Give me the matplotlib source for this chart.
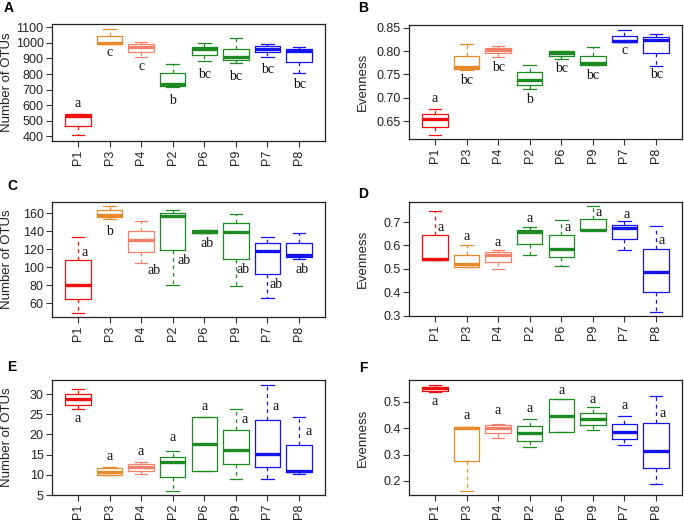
import matplotlib
matplotlib.use("Agg")
import matplotlib.pyplot as plt

plt.rcParams['font.family'] = ['Liberation Sans', 'DejaVu Sans']

groups = ["P1", "P3", "P4", "P2", "P6", "P9", "P7", "P8"]
colors = ["#F01010", "#E8892A", "#F4806A", "#1E8B22", "#1E8B22", "#1E8B22", "#1414EE", "#1414EE"]

# Panel A: Number of OTUs
A_q1 = [466, 993, 944, 725, 922, 890, 940, 875]
A_med = [533, 997, 976, 734, 961, 907, 959, 950]
A_q3 = [541, 1044, 993, 805, 976, 963, 980, 959]
A_lo = [408, 993, 907, 715, 884, 873, 907, 805]
A_hi = [541, 1087, 1008, 865, 997, 1030, 991, 972]
A_let = ["a", "c", "c", "b", "bc", "bc", "bc", "bc"]
A_let_y = [608, 940, 848, 633, 794, 787, 826, 730]

# Panel B: Evenness
B_q1 = [0.637, 0.762, 0.795, 0.728, 0.790, 0.770, 0.819, 0.795]
B_med = [0.655, 0.765, 0.802, 0.738, 0.795, 0.774, 0.822, 0.824]
B_q3 = [0.665, 0.790, 0.807, 0.754, 0.799, 0.790, 0.833, 0.829]
B_lo = [0.621, 0.760, 0.787, 0.718, 0.782, 0.770, 0.819, 0.768]
B_hi = [0.676, 0.815, 0.810, 0.770, 0.800, 0.808, 0.845, 0.837]
B_let = ["a", "bc", "bc", "b", "bc", "bc", "c", "bc"]
B_let_y = [0.698, 0.737, 0.765, 0.696, 0.762, 0.748, 0.802, 0.749]

# Panel C: Number of OTUs
C_q1 = [65.2, 155.2, 117.2, 119.1, 137.7, 109.0, 92.0, 110.9]
C_med = [80.8, 157.4, 130.2, 156.3, 139.5, 139.5, 118.4, 113.5]
C_q3 = [107.6, 163.0, 140.3, 160.0, 141.0, 149.0, 126.5, 126.5]
C_lo = [49.2, 153.3, 104.2, 80.8, 137.7, 79.0, 66.3, 108.7]
C_hi = [134.0, 167.4, 150.7, 163.0, 141.0, 158.9, 134.0, 138.4]
C_let = ["a", "b", "ab", "ab", "ab", "ab", "ab", "ab"]
C_let_y = [116.1, 139.5, 96.8, 107.2, 126.5, 97.9, 81.2, 97.9]
C_let_dx = [0.2, 0.0, 0.4, 0.35, 0.08, 0.23, 0.28, 0.1]

# Panel D: Evenness
D_q1 = [0.539, 0.510, 0.531, 0.607, 0.550, 0.667, 0.627, 0.400]
D_med = [0.541, 0.520, 0.560, 0.656, 0.584, 0.667, 0.674, 0.486]
D_q3 = [0.646, 0.560, 0.571, 0.667, 0.646, 0.714, 0.689, 0.584]
D_lo = [0.539, 0.507, 0.499, 0.560, 0.514, 0.667, 0.581, 0.314]
D_hi = [0.746, 0.603, 0.579, 0.679, 0.710, 0.767, 0.703, 0.684]
D_let = ["a"] * 8
D_let_y = [0.677, 0.639, 0.614, 0.717, 0.677, 0.741, 0.731, 0.620]
D_let_dx = [0.18, 0.0, 0.0, 0.0, 0.2, 0.19, 0.06, 0.19]

# Panel E: Number of OTUs
E_q1 = [27.4, 10.0, 11.0, 9.5, 11.0, 12.6, 12.0, 10.6]
E_med = [28.76, 10.6, 12.0, 13.1, 17.6, 16.1, 15.1, 11.0]
E_q3 = [29.9, 11.6, 12.6, 14.5, 24.2, 21.0, 23.6, 17.5]
E_lo = [26.2, 10.0, 10.1, 6.0, 11.0, 9.0, 9.0, 10.1]
E_hi = [31.2, 12.0, 13.1, 16.0, 24.2, 26.2, 32.2, 24.2]
E_let = ["a"] * 8
E_let_y = [24.0, 14.65, 15.7, 19.2, 26.9, 23.8, 26.9, 20.8]
E_let_dx = [0.0, 0.0, 0.0, 0.0, 0.0, 0.27, 0.27, 0.3]

# Panel F: Evenness
F_q1 = [0.5405, 0.2757, 0.3803, 0.3526, 0.3841, 0.4118, 0.3589, 0.2504]
F_med = [0.5506, 0.3992, 0.4018, 0.3803, 0.4472, 0.4346, 0.3841, 0.3148]
F_q3 = [0.5569, 0.4055, 0.4118, 0.4080, 0.5102, 0.4560, 0.4156, 0.4207]
F_lo = [0.5354, 0.1634, 0.3614, 0.3274, 0.3841, 0.3930, 0.3362, 0.1874]
F_hi = [0.5632, 0.4055, 0.4144, 0.4346, 0.5102, 0.4787, 0.4472, 0.5228]
F_let = ["a"] * 8
F_let_y = [0.500, 0.446, 0.465, 0.475, 0.5405, 0.510, 0.484, 0.456]
F_let_dx = [0.0, 0.0, 0.0, 0.0, 0.0, 0.0, 0.0, 0.2]

panels = [
    ("A", "Number of OTUs", A_q1, A_med, A_q3, A_lo, A_hi, A_let, A_let_y, [0.0] * 8,
     (370, 1121), [400, 500, 600, 700, 800, 900, 1000, 1100], "{:.0f}"),
    ("B", "Evenness", B_q1, B_med, B_q3, B_lo, B_hi, B_let, B_let_y, [0.0] * 8,
     (0.6116, 0.8557), [0.65, 0.70, 0.75, 0.80, 0.85], "{:.2f}"),
    ("C", "Number of OTUs", C_q1, C_med, C_q3, C_lo, C_hi, C_let, C_let_y, C_let_dx,
     (44.8, 172.3), [60, 80, 100, 120, 140, 160], "{:.0f}"),
    ("D", "Evenness", D_q1, D_med, D_q3, D_lo, D_hi, D_let, D_let_y, D_let_dx,
     (0.2986, 0.7857), [0.3, 0.4, 0.5, 0.6, 0.7], "{:.1f}"),
    ("E", "Number of OTUs", E_q1, E_med, E_q3, E_lo, E_hi, E_let, E_let_y, E_let_dx,
     (5.0, 33.47), [5, 10, 15, 20, 25, 30], "{:.0f}"),
    ("F", "Evenness", F_q1, F_med, F_q3, F_lo, F_hi, F_let, F_let_y, F_let_dx,
     (0.147, 0.582), [0.2, 0.3, 0.4, 0.5], "{:.1f}"),
]

W, H = 684, 523
fig = plt.figure(figsize=(W / 100, H / 100), dpi=100)

# axes boxes in pixels: (left, top, right, bottom)
boxes = [(52, 24, 325, 141), (409, 25, 682, 139),
         (52, 202, 325, 317), (409, 202, 682, 316),
         (52, 380, 325, 495), (409, 380, 682, 495)]
label_pos = [(9, 8), (363, 8), (12, 186), (363, 194), (12, 367), (363, 368)]
ylabel_x = [7, 363, 7, 363, 7, 363]

for i, (tag, ylab, q1, med, q3, lo, hi, let, let_y, let_dx, ylim, yticks, fmt) in enumerate(panels):
    l, t, r, b = boxes[i]
    ax = fig.add_axes([l / W, 1 - b / H, (r - l) / W, (b - t) / H])
    pos = list(range(1, len(groups) + 1))
    for j in range(len(groups)):
        st = [dict(med=med[j], q1=q1[j], q3=q3[j], whislo=lo[j], whishi=hi[j], fliers=[])]
        c = colors[j]
        ax.bxp(st, positions=[pos[j]], widths=0.8, capwidths=0.4, showfliers=False,
               boxprops=dict(color=c, linewidth=0.9),
               whiskerprops=dict(color=c, linewidth=0.9, linestyle=(0, (3, 3))),
               capprops=dict(color=c, linewidth=0.9),
               medianprops=dict(color=c, linewidth=2.4, solid_capstyle='butt'),
               manage_ticks=False)
        ax.text(pos[j] + let_dx[j], let_y[j], let[j], family=['Liberation Serif'],
                fontsize=10, ha='center', va='center', color='#111111')
    ax.set_xlim(0.18, 8.82)
    ax.set_ylim(*ylim)
    ax.set_xticks(pos)
    ax.set_xticklabels(groups, rotation=90, fontsize=9, color='#222222')
    ax.set_yticks(yticks)
    ax.set_yticklabels([fmt.format(v) for v in yticks], fontsize=9, color='#222222')
    ax.tick_params(axis='both', direction='out', length=4, width=0.8, color='#333333', pad=2)
    for s in ax.spines.values():
        s.set_linewidth(0.9)
        s.set_color('#222222')
    fig.text(label_pos[i][0] / W, 1 - label_pos[i][1] / H, tag, fontsize=10,
             fontweight='bold', ha='center', va='center')
    fig.text(ylabel_x[i] / W, 1 - ((t + b) / 2) / H, ylab, rotation=90, fontsize=9.5,
             ha='center', va='center', color='#222222')

fig.savefig("out.png", dpi=100)
